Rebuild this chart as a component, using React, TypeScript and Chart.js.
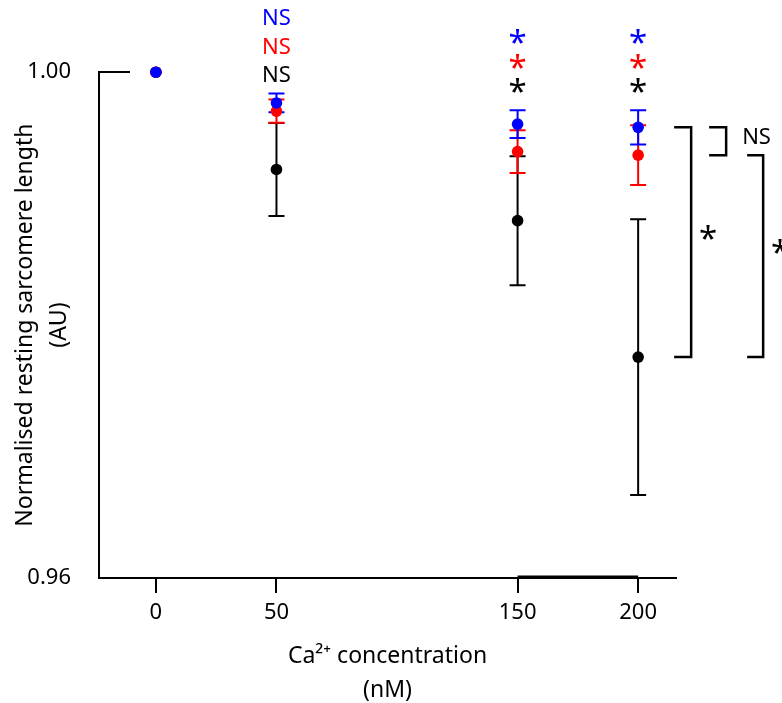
import React, { useEffect, useRef } from "react";
import { Chart, registerables } from "chart.js";
Chart.register(...registerables);

// ---- data ----
const concentrations = [0, 50, 150, 200];
const xTickValues = [0, 50, 150, 200];
const yTickValues = [0.96, 1.0];

const blueMean = [1.0, 0.99757, 0.99589, 0.99564];
const blueErr = [0, 0.00074, 0.0011, 0.00136];
const redMean = [1.0, 0.99692, 0.99372, 0.99344];
const redErr = [0, 0.00092, 0.00169, 0.00237];
const blackMean = [1.0, 0.99231, 0.98826, 0.97747];
const blackErr = [0, 0.00368, 0.0051, 0.0109];

const sigConcentrations = [50, 150, 200];
const sigBlue = ["NS", "*", "*"];
const sigRed = ["NS", "*", "*"];
const sigBlack = ["NS", "*", "*"];
const bracketLabels = ["NS", "*", "*"];

const yTitle = ["Normalised resting sarcomere length", "(AU)"];
const xTitle = ["Ca\u00B2\u207A concentration", "(nM)"];

const BLUE = "#0000FF";
const RED = "#FF0000";
const BLACK = "#000000";
const FONT = "'Noto Sans', 'DejaVu Sans', sans-serif";

function drawLabel(ctx: CanvasRenderingContext2D, text: string, x: number, cy: number, color: string, align: CanvasTextAlign) {
  ctx.fillStyle = color;
  ctx.textAlign = align;
  if (text === "*") {
    const size = 33;
    ctx.font = `${size}px ${FONT}`;
    ctx.textBaseline = "alphabetic";
    ctx.fillText(text, x, cy + 0.447 * size);
  } else {
    ctx.font = `22px ${FONT}`;
    ctx.textBaseline = "middle";
    ctx.fillText(text, x, cy);
  }
}

const errorBarPlugin = {
  id: "errorBars",
  beforeDatasetsDraw(chart: any) {
    const { ctx, scales } = chart;
    const x = scales.x;
    const y = scales.y;
    const groups: [number[], number[], string][] = [
      [blackMean, blackErr, BLACK],
      [redMean, redErr, RED],
      [blueMean, blueErr, BLUE],
    ];
    ctx.save();
    ctx.lineWidth = 2;
    for (const [m, e, c] of groups) {
      ctx.strokeStyle = c;
      concentrations.forEach((cx, i) => {
        if (!e[i]) return;
        const px = x.getPixelForValue(cx);
        const top = y.getPixelForValue(m[i] + e[i]);
        const bot = y.getPixelForValue(m[i] - e[i]);
        ctx.beginPath();
        ctx.moveTo(px, top);
        ctx.lineTo(px, bot);
        ctx.moveTo(px - 8, top);
        ctx.lineTo(px + 8, top);
        ctx.moveTo(px - 8, bot);
        ctx.lineTo(px + 8, bot);
        ctx.stroke();
      });
    }
    ctx.restore();
  },
};

const annotationPlugin = {
  id: "annotations",
  afterDraw(chart: any) {
    const { ctx, scales, chartArea } = chart;
    const x = scales.x;
    const y = scales.y;
    ctx.save();
    // significance labels above each concentration
    const rows: [string[], string, number, number][] = [
      [sigBlue, BLUE, -53, -33],
      [sigRed, RED, -24, -8],
      [sigBlack, BLACK, 4, 16],
    ];
    sigConcentrations.forEach((c, i) => {
      const px = x.getPixelForValue(c);
      for (const [labels, color, nsOff, starOff] of rows) {
        const t = labels[i];
        drawLabel(ctx, t, px, chartArea.top + (t === "*" ? starOff : nsOff), color, "center");
      }
    });

    // thick segment on x axis between 150 and 200
    ctx.strokeStyle = BLACK;
    ctx.lineWidth = 2;
    ctx.beginPath();
    ctx.moveTo(x.getPixelForValue(150), chartArea.bottom - 1.5);
    ctx.lineTo(x.getPixelForValue(200), chartArea.bottom - 1.5);
    ctx.stroke();

    // brackets comparing groups at 200 nM
    const last = concentrations.length - 1;
    const px200 = x.getPixelForValue(concentrations[last]);
    const yb = y.getPixelForValue(blueMean[last]);
    const yr = y.getPixelForValue(redMean[last]);
    const yk = y.getPixelForValue(blackMean[last]);
    const brackets: [number, number, number, number][] = [
      [yb, yr, 71, 88],
      [yb, yk, 36, 53],
      [yr, yk, 109, 125],
    ];
    ctx.lineWidth = 2.5;
    brackets.forEach(([y1, y2, a, b], i) => {
      ctx.strokeStyle = BLACK;
      ctx.beginPath();
      ctx.moveTo(px200 + a, y1);
      ctx.lineTo(px200 + b, y1);
      ctx.lineTo(px200 + b, y2);
      ctx.lineTo(px200 + a, y2);
      ctx.stroke();
      const mid = (y1 + y2) / 2;
      const t = bracketLabels[i];
      if (t === "*") {
        drawLabel(ctx, t, px200 + b + 17, mid - 7, BLACK, "center");
      } else {
        drawLabel(ctx, t, px200 + b + 16, mid - 4, BLACK, "left");
      }
    });
    ctx.restore();
  },
};

export default function App() {
  const ref = useRef<HTMLCanvasElement | null>(null);
  useEffect(() => {
    if (!ref.current) return;
    const mk = (label: string, data: number[], color: string) => ({
      label,
      data: concentrations.map((c, i) => ({ x: c, y: data[i] })),
      backgroundColor: color,
      borderColor: color,
      pointRadius: 5.8,
      pointBorderWidth: 0,
      showLine: false,
      clip: false as any,
    });
    const chart = new Chart(ref.current, {
      type: "scatter",
      data: {
        datasets: [mk("Blue", blueMean, BLUE), mk("Red", redMean, RED), mk("Black", blackMean, BLACK)],
      },
      options: {
        animation: false,
        responsive: false,
        devicePixelRatio: 1,
        layout: { padding: { top: 72, right: 106, bottom: 0, left: 0 } },
        plugins: { legend: { display: false }, tooltip: { enabled: false } },
        scales: {
          x: {
            type: "linear",
            position: "bottom",
            min: -23.6,
            max: 215.7,
            afterBuildTicks: (s: any) => {
              s.ticks = xTickValues.map((v) => ({ value: v }));
            },
            afterFit: (s: any) => {
              s.height = 125;
            },
            grid: {
              display: true,
              drawOnChartArea: false,
              drawTicks: true,
              tickLength: 15,
              tickWidth: 2,
              tickColor: BLACK,
              lineWidth: 2,
            },
            border: { display: true, color: BLACK, width: 2 },
            ticks: {
              padding: 7,
              color: BLACK,
              font: { family: FONT, size: 22 },
              maxRotation: 0,
              callback: (v: any) => String(v),
            },
            title: {
              display: true,
              text: xTitle,
              color: BLACK,
              font: { family: FONT, size: 23, lineHeight: 1.5 },
              padding: { top: 0, bottom: -5 },
            },
          },
          y: {
            type: "linear",
            position: "left",
            min: 0.96,
            max: 1.0,
            afterBuildTicks: (s: any) => {
              s.ticks = yTickValues.map((v) => ({ value: v }));
            },
            afterFit: (s: any) => {
              s.width = 99;
            },
            grid: {
              display: true,
              drawOnChartArea: false,
              drawTicks: true,
              tickLength: -31,
              tickWidth: 2,
              lineWidth: 2,
              tickColor: (c: any) => (c.tick && Math.abs(c.tick.value - 1) < 1e-9 ? BLACK : "rgba(0,0,0,0)"),
            },
            border: { display: true, color: BLACK, width: 2 },
            ticks: {
              padding: 59,
              color: BLACK,
              font: { family: FONT, size: 22 },
              callback: (v: any) => Number(v).toFixed(2),
            },
            title: {
              display: true,
              text: yTitle,
              color: BLACK,
              font: { family: FONT, size: 23, lineHeight: 1.5 },
              padding: { top: 8, bottom: 0 },
            },
          },
        },
      },
      plugins: [errorBarPlugin, annotationPlugin],
    });
    return () => chart.destroy();
  }, []);
  return (
    <div style={{ position: "fixed", left: 0, top: 0, width: 782, height: 703, background: "#fff" }}>
      <canvas ref={ref} width={782} height={703} />
    </div>
  );
}
